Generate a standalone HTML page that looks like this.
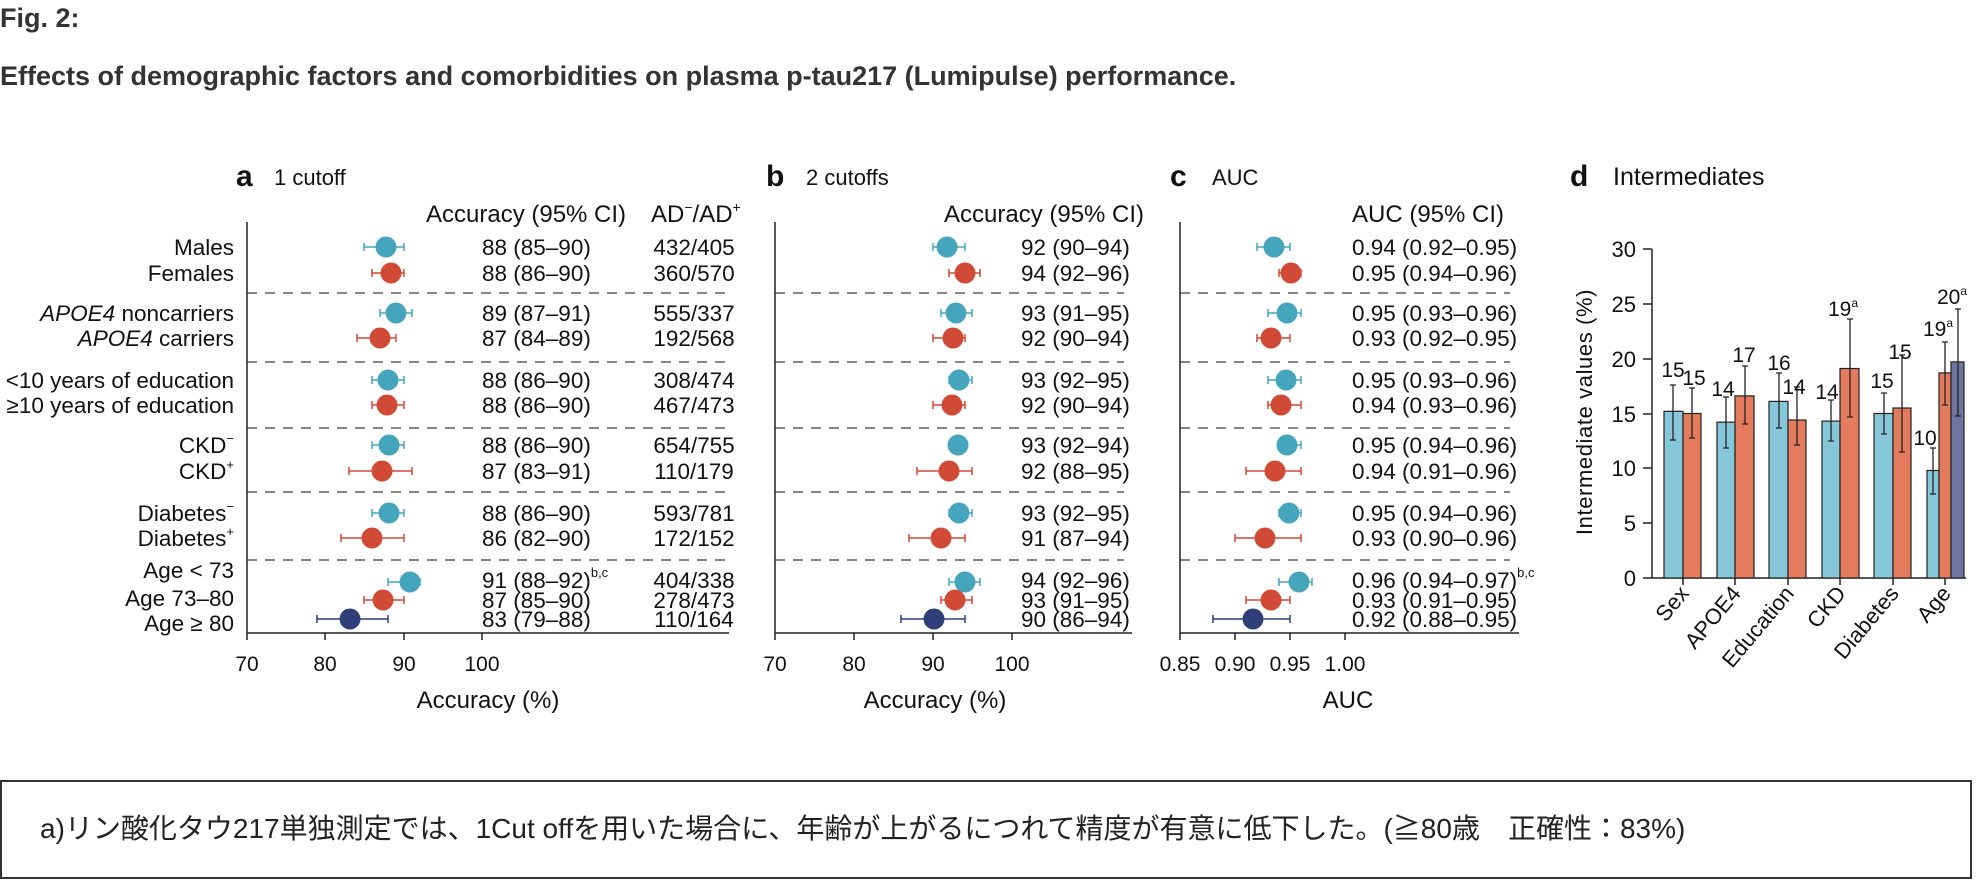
<!DOCTYPE html>
<html><head><meta charset="utf-8"><style>
html,body{margin:0;padding:0;background:#fff;}
body{width:1976px;height:880px;overflow:hidden;}
svg{display:block;font-family:"Liberation Sans","Noto Sans CJK JP",sans-serif;}
</style></head><body>
<svg width="1976" height="880" viewBox="0 0 1976 880" xmlns="http://www.w3.org/2000/svg">
<text x="0" y="27" font-size="27" font-weight="bold" fill="#333">Fig. 2:</text>
<text x="0" y="85" font-size="27" font-weight="bold" fill="#333">Effects of demographic factors and comorbidities on plasma p-tau217 (Lumipulse) performance.</text>

<!-- panel labels -->
<g fill="#111">
<text x="236" y="186" font-size="30" font-weight="bold">a</text><text x="274" y="185" font-size="22">1 cutoff</text>
<text x="766" y="186" font-size="30" font-weight="bold">b</text><text x="806" y="185" font-size="22">2 cutoffs</text>
<text x="1170" y="186" font-size="30" font-weight="bold">c</text><text x="1212" y="185" font-size="22">AUC</text>
<text x="1570" y="186" font-size="30" font-weight="bold">d</text><text x="1613" y="185" font-size="25">Intermediates</text>
</g>

<!-- headers -->
<g font-size="24" fill="#111">
<text x="426" y="222">Accuracy (95% CI)</text>
<text x="651" y="222">AD<tspan font-size="14" dy="-10">−</tspan><tspan dy="10">/AD</tspan><tspan font-size="14" dy="-10">+</tspan></text>
<text x="944" y="222">Accuracy (95% CI)</text>
<text x="1352" y="222">AUC (95% CI)</text>
</g>

<!-- row labels -->
<g font-size="22.5" fill="#111" text-anchor="end">
<text x="234" y="255">Males</text>
<text x="234" y="281">Females</text>
<text x="234" y="321"><tspan font-style="italic">APOE4</tspan> noncarriers</text>
<text x="234" y="346"><tspan font-style="italic">APOE4</tspan> carriers</text>
<text x="234" y="388">&lt;10 years of education</text>
<text x="234" y="413">≥10 years of education</text>
<text x="234" y="453">CKD<tspan font-size="13" dy="-10">−</tspan></text>
<text x="234" y="479">CKD<tspan font-size="13" dy="-10">+</tspan></text>
<text x="234" y="521">Diabetes<tspan font-size="13" dy="-10">−</tspan></text>
<text x="234" y="546">Diabetes<tspan font-size="13" dy="-10">+</tspan></text>
<text x="234" y="578">Age &lt; 73</text>
<text x="234" y="606">Age 73–80</text>
<text x="234" y="631">Age ≥ 80</text>
</g>

<!-- dashed separators -->
<g stroke="#8a8582" stroke-width="2" stroke-dasharray="10,8">
<line x1="247" x2="731" y1="293" y2="293"/><line x1="247" x2="731" y1="362" y2="362"/><line x1="247" x2="731" y1="428" y2="428"/><line x1="247" x2="731" y1="492" y2="492"/><line x1="247" x2="731" y1="560" y2="560"/>
<line x1="775" x2="1124" y1="293" y2="293"/><line x1="775" x2="1124" y1="362" y2="362"/><line x1="775" x2="1124" y1="428" y2="428"/><line x1="775" x2="1124" y1="492" y2="492"/><line x1="775" x2="1124" y1="560" y2="560"/>
<line x1="1180" x2="1510" y1="293" y2="293"/><line x1="1180" x2="1510" y1="362" y2="362"/><line x1="1180" x2="1510" y1="428" y2="428"/><line x1="1180" x2="1510" y1="492" y2="492"/><line x1="1180" x2="1510" y1="560" y2="560"/>
</g>

<!-- axes -->
<g stroke="#222" stroke-width="1.5" fill="none">
<path d="M247 222 V633 H729"/><path d="M247 633v7M325 633v7M404 633v7M482 633v7"/>
<path d="M775 222 V633 H1132"/><path d="M775 633v7M854 633v7M933 633v7M1012 633v7"/>
<path d="M1180 222 V633 H1519"/><path d="M1180 633v7M1235 633v7M1290 633v7M1345 633v7"/>
</g>
<g font-size="21" fill="#111" text-anchor="middle">
<text x="247" y="671">70</text><text x="325" y="671">80</text><text x="404" y="671">90</text><text x="482" y="671">100</text>
<text x="775" y="671">70</text><text x="854" y="671">80</text><text x="933" y="671">90</text><text x="1012" y="671">100</text>
<text x="1180" y="671">0.85</text><text x="1235" y="671">0.90</text><text x="1290" y="671">0.95</text><text x="1345" y="671">1.00</text>
</g>
<g font-size="24" fill="#111" text-anchor="middle">
<text x="488" y="708">Accuracy (%)</text><text x="935" y="708">Accuracy (%)</text><text x="1348" y="708">AUC</text>
</g>

<!-- values panel a -->
<g font-size="22.5" fill="#111">
<text x="482" y="255">88 (85–90)</text><text x="482" y="281">88 (86–90)</text>
<text x="482" y="321">89 (87–91)</text><text x="482" y="346">87 (84–89)</text>
<text x="482" y="388">88 (86–90)</text><text x="482" y="413">88 (86–90)</text>
<text x="482" y="453">88 (86–90)</text><text x="482" y="479">87 (83–91)</text>
<text x="482" y="521">88 (86–90)</text><text x="482" y="546">86 (82–90)</text>
<text x="482" y="588">91 (88–92)<tspan font-size="13" dy="-11">b,c</tspan></text><text x="482" y="608">87 (85–90)</text><text x="482" y="627">83 (79–88)</text>
</g>
<g font-size="22.5" fill="#111" text-anchor="middle">
<text x="694" y="255">432/405</text><text x="694" y="281">360/570</text>
<text x="694" y="321">555/337</text><text x="694" y="346">192/568</text>
<text x="694" y="388">308/474</text><text x="694" y="413">467/473</text>
<text x="694" y="453">654/755</text><text x="694" y="479">110/179</text>
<text x="694" y="521">593/781</text><text x="694" y="546">172/152</text>
<text x="694" y="588">404/338</text><text x="694" y="608">278/473</text><text x="694" y="627">110/164</text>
</g>
<!-- values panel b -->
<g font-size="22.5" fill="#111">
<text x="1021" y="255">92 (90–94)</text><text x="1021" y="281">94 (92–96)</text>
<text x="1021" y="321">93 (91–95)</text><text x="1021" y="346">92 (90–94)</text>
<text x="1021" y="388">93 (92–95)</text><text x="1021" y="413">92 (90–94)</text>
<text x="1021" y="453">93 (92–94)</text><text x="1021" y="479">92 (88–95)</text>
<text x="1021" y="521">93 (92–95)</text><text x="1021" y="546">91 (87–94)</text>
<text x="1021" y="588">94 (92–96)</text><text x="1021" y="608">93 (91–95)</text><text x="1021" y="627">90 (86–94)</text>
</g>
<!-- values panel c -->
<g font-size="22.5" fill="#111">
<text x="1352" y="255">0.94 (0.92–0.95)</text><text x="1352" y="281">0.95 (0.94–0.96)</text>
<text x="1352" y="321">0.95 (0.93–0.96)</text><text x="1352" y="346">0.93 (0.92–0.95)</text>
<text x="1352" y="388">0.95 (0.93–0.96)</text><text x="1352" y="413">0.94 (0.93–0.96)</text>
<text x="1352" y="453">0.95 (0.94–0.96)</text><text x="1352" y="479">0.94 (0.91–0.96)</text>
<text x="1352" y="521">0.95 (0.94–0.96)</text><text x="1352" y="546">0.93 (0.90–0.96)</text>
<text x="1352" y="588">0.96 (0.94–0.97)<tspan font-size="13" dy="-11">b,c</tspan></text><text x="1352" y="608">0.93 (0.91–0.95)</text><text x="1352" y="627">0.92 (0.88–0.95)</text>
</g>

<!-- markers: error bars -->
<g stroke-width="1.5">
<g stroke="#45a5bd"><path d="M364 247H404M364 243v8M404 243v8"/><path d="M380 313H412M380 309v8M412 309v8"/><path d="M372 380H404M372 376v8M404 376v8"/><path d="M372 445H404M372 441v8M404 441v8"/><path d="M372 513H404M372 509v8M404 509v8"/><path d="M388 582H420M388 578v8M420 578v8"/></g>
<g stroke="#d04a35"><path d="M372 273H404M372 269v8M404 269v8"/><path d="M357 338H396M357 334v8M396 334v8"/><path d="M372 405H404M372 401v8M404 401v8"/><path d="M349 471H412M349 467v8M412 467v8"/><path d="M341 538H404M341 534v8M404 534v8"/><path d="M364 600H404M364 596v8M404 596v8"/></g>
<g stroke="#2e3f7a"><path d="M317 619H388M317 615v8M388 615v8"/></g>
<g stroke="#45a5bd"><path d="M933 247H965M933 243v8M965 243v8"/><path d="M941 313H972M941 309v8M972 309v8"/><path d="M949 380H972M949 376v8M972 376v8"/><path d="M949 445H965M949 441v8M965 441v8"/><path d="M949 513H972M949 509v8M972 509v8"/><path d="M949 582H980M949 578v8M980 578v8"/></g>
<g stroke="#d04a35"><path d="M949 273H980M949 269v8M980 269v8"/><path d="M933 338H965M933 334v8M965 334v8"/><path d="M933 405H965M933 401v8M965 401v8"/><path d="M917 471H972M917 467v8M972 467v8"/><path d="M909 538H965M909 534v8M965 534v8"/><path d="M941 600H972M941 596v8M972 596v8"/></g>
<g stroke="#2e3f7a"><path d="M901 619H965M901 615v8M965 615v8"/></g>
<g stroke="#45a5bd"><path d="M1257 247H1290M1257 243v8M1290 243v8"/><path d="M1268 313H1301M1268 309v8M1301 309v8"/><path d="M1268 380H1301M1268 376v8M1301 376v8"/><path d="M1279 445H1301M1279 441v8M1301 441v8"/><path d="M1279 513H1301M1279 509v8M1301 509v8"/><path d="M1279 582H1312M1279 578v8M1312 578v8"/></g>
<g stroke="#d04a35"><path d="M1279 273H1301M1279 269v8M1301 269v8"/><path d="M1257 338H1290M1257 334v8M1290 334v8"/><path d="M1268 405H1301M1268 401v8M1301 401v8"/><path d="M1246 471H1301M1246 467v8M1301 467v8"/><path d="M1235 538H1301M1235 534v8M1301 534v8"/><path d="M1246 600H1290M1246 596v8M1290 596v8"/></g>
<g stroke="#2e3f7a"><path d="M1213 619H1290M1213 615v8M1290 615v8"/></g>
</g>
<!-- circles -->
<g>
<g fill="#45a5bd"><circle cx="386" cy="247" r="10.5"/><circle cx="396" cy="313" r="10.5"/><circle cx="388" cy="380" r="10.5"/><circle cx="389" cy="445" r="10.5"/><circle cx="389" cy="513" r="10.5"/><circle cx="410" cy="582" r="10.5"/>
<circle cx="947" cy="247" r="10.5"/><circle cx="956" cy="313" r="10.5"/><circle cx="959" cy="380" r="10.5"/><circle cx="958" cy="445" r="10.5"/><circle cx="959" cy="513" r="10.5"/><circle cx="965" cy="582" r="10.5"/>
<circle cx="1274" cy="247" r="10.5"/><circle cx="1287" cy="313" r="10.5"/><circle cx="1286" cy="380" r="10.5"/><circle cx="1287" cy="445" r="10.5"/><circle cx="1289" cy="513" r="10.5"/><circle cx="1299" cy="582" r="10.5"/></g>
<g fill="#d04a35"><circle cx="391" cy="273" r="10.5"/><circle cx="380" cy="338" r="10.5"/><circle cx="387" cy="405" r="10.5"/><circle cx="382" cy="471" r="10.5"/><circle cx="372" cy="538" r="10.5"/><circle cx="383" cy="600" r="10.5"/>
<circle cx="965" cy="273" r="10.5"/><circle cx="953" cy="338" r="10.5"/><circle cx="952" cy="405" r="10.5"/><circle cx="949" cy="471" r="10.5"/><circle cx="941" cy="538" r="10.5"/><circle cx="955" cy="600" r="10.5"/>
<circle cx="1291" cy="273" r="10.5"/><circle cx="1271" cy="338" r="10.5"/><circle cx="1281" cy="405" r="10.5"/><circle cx="1275" cy="471" r="10.5"/><circle cx="1265" cy="538" r="10.5"/><circle cx="1271" cy="600" r="10.5"/></g>
<g fill="#2e3f7a"><circle cx="350" cy="619" r="10.5"/><circle cx="934" cy="619" r="10.5"/><circle cx="1253" cy="619" r="10.5"/></g>
</g>

<!-- panel d -->
<g stroke="#222" stroke-width="1.5" fill="none">
<path d="M1652 249V578H1966"/>
<path d="M1643 249h9M1643 304h9M1643 359h9M1643 414h9M1643 468h9M1643 523h9M1643 578h9"/>
<path d="M1683 578v7M1735 578v7M1788 578v7M1840 578v7M1893 578v7M1945 578v7"/>
</g>
<g font-size="22" fill="#111" text-anchor="end">
<text x="1636" y="257">30</text><text x="1636" y="312">25</text><text x="1636" y="367">20</text><text x="1636" y="422">15</text><text x="1636" y="476">10</text><text x="1636" y="531">5</text><text x="1636" y="586">0</text>
</g>
<text transform="translate(1592,412) rotate(-90)" font-size="22" fill="#111" text-anchor="middle" letter-spacing="0.6">Intermediate values (%)</text>
<g stroke="#222" stroke-width="1.2">
<rect x="1664" y="411.3" width="19" height="166.7" fill="#86c7da"/><rect x="1683" y="413.5" width="18" height="164.5" fill="#e57b5d"/>
<rect x="1717" y="422.2" width="18" height="155.8" fill="#86c7da"/><rect x="1735" y="395.9" width="19" height="182.1" fill="#e57b5d"/>
<rect x="1769" y="401.4" width="19" height="176.6" fill="#86c7da"/><rect x="1788" y="420" width="18" height="158" fill="#e57b5d"/>
<rect x="1822" y="421.1" width="18" height="156.9" fill="#86c7da"/><rect x="1840" y="368.5" width="19" height="209.5" fill="#e57b5d"/>
<rect x="1874" y="413.5" width="19" height="164.5" fill="#86c7da"/><rect x="1893" y="408" width="18" height="170" fill="#e57b5d"/>
<rect x="1927" y="470.5" width="12" height="107.5" fill="#86c7da"/><rect x="1939" y="372.9" width="12" height="205.1" fill="#e57b5d"/><rect x="1951" y="361.9" width="13" height="216.1" fill="#6c76a0"/>
</g>
<g stroke="#222" stroke-width="1.3">
<path d="M1673 385V440M1670 385h6M1670 440h6"/><path d="M1692 388V438M1689 388h6M1689 438h6"/>
<path d="M1726 397V448M1723 397h6M1723 448h6"/><path d="M1745 366V424M1742 366h6M1742 424h6"/>
<path d="M1779 373V428M1776 373h6M1776 428h6"/><path d="M1797 387V445M1794 387h6M1794 445h6"/>
<path d="M1831 400V441M1828 400h6M1828 441h6"/><path d="M1850 319V417M1847 319h6M1847 417h6"/>
<path d="M1884 393V434M1881 393h6M1881 434h6"/><path d="M1902 355V452M1899 355h6M1899 452h6"/>
<path d="M1933 448V494M1930 448h6M1930 494h6"/><path d="M1945 342V405M1942 342h6M1942 405h6"/><path d="M1958 309V416M1955 309h6M1955 416h6"/>
</g>
<g font-size="21" fill="#111" text-anchor="middle">
<text x="1673" y="377">15</text><text x="1694" y="385">15</text>
<text x="1723" y="396">14</text><text x="1744" y="362">17</text>
<text x="1779" y="370">16</text><text x="1794" y="394">14</text>
<text x="1827" y="399">14</text><text x="1843" y="316">19<tspan font-size="12" dy="-9">a</tspan></text>
<text x="1882" y="388">15</text><text x="1900" y="359">15</text>
<text x="1925" y="445">10</text><text x="1938" y="336">19<tspan font-size="12" dy="-9">a</tspan></text><text x="1952" y="304">20<tspan font-size="12" dy="-9">a</tspan></text>
</g>
<g font-size="22" fill="#111" text-anchor="end">
<text transform="translate(1690,594) rotate(-50)">Sex</text>
<text transform="translate(1742,594) rotate(-50)">APOE4</text>
<text transform="translate(1795,594) rotate(-50)">Education</text>
<text transform="translate(1847,594) rotate(-50)">CKD</text>
<text transform="translate(1900,594) rotate(-50)">Diabetes</text>
<text transform="translate(1952,594) rotate(-50)">Age</text>
</g>

<!-- note box -->
<rect x="1" y="781" width="1970" height="97" fill="none" stroke="#333" stroke-width="2"/>
<text x="40" y="838" font-size="28" fill="#222">a)リン酸化タウ217単独測定では、1Cut offを用いた場合に、年齢が上がるにつれて精度が有意に低下した。(≧80歳　正確性：83%)</text>
</svg>
</body></html>
